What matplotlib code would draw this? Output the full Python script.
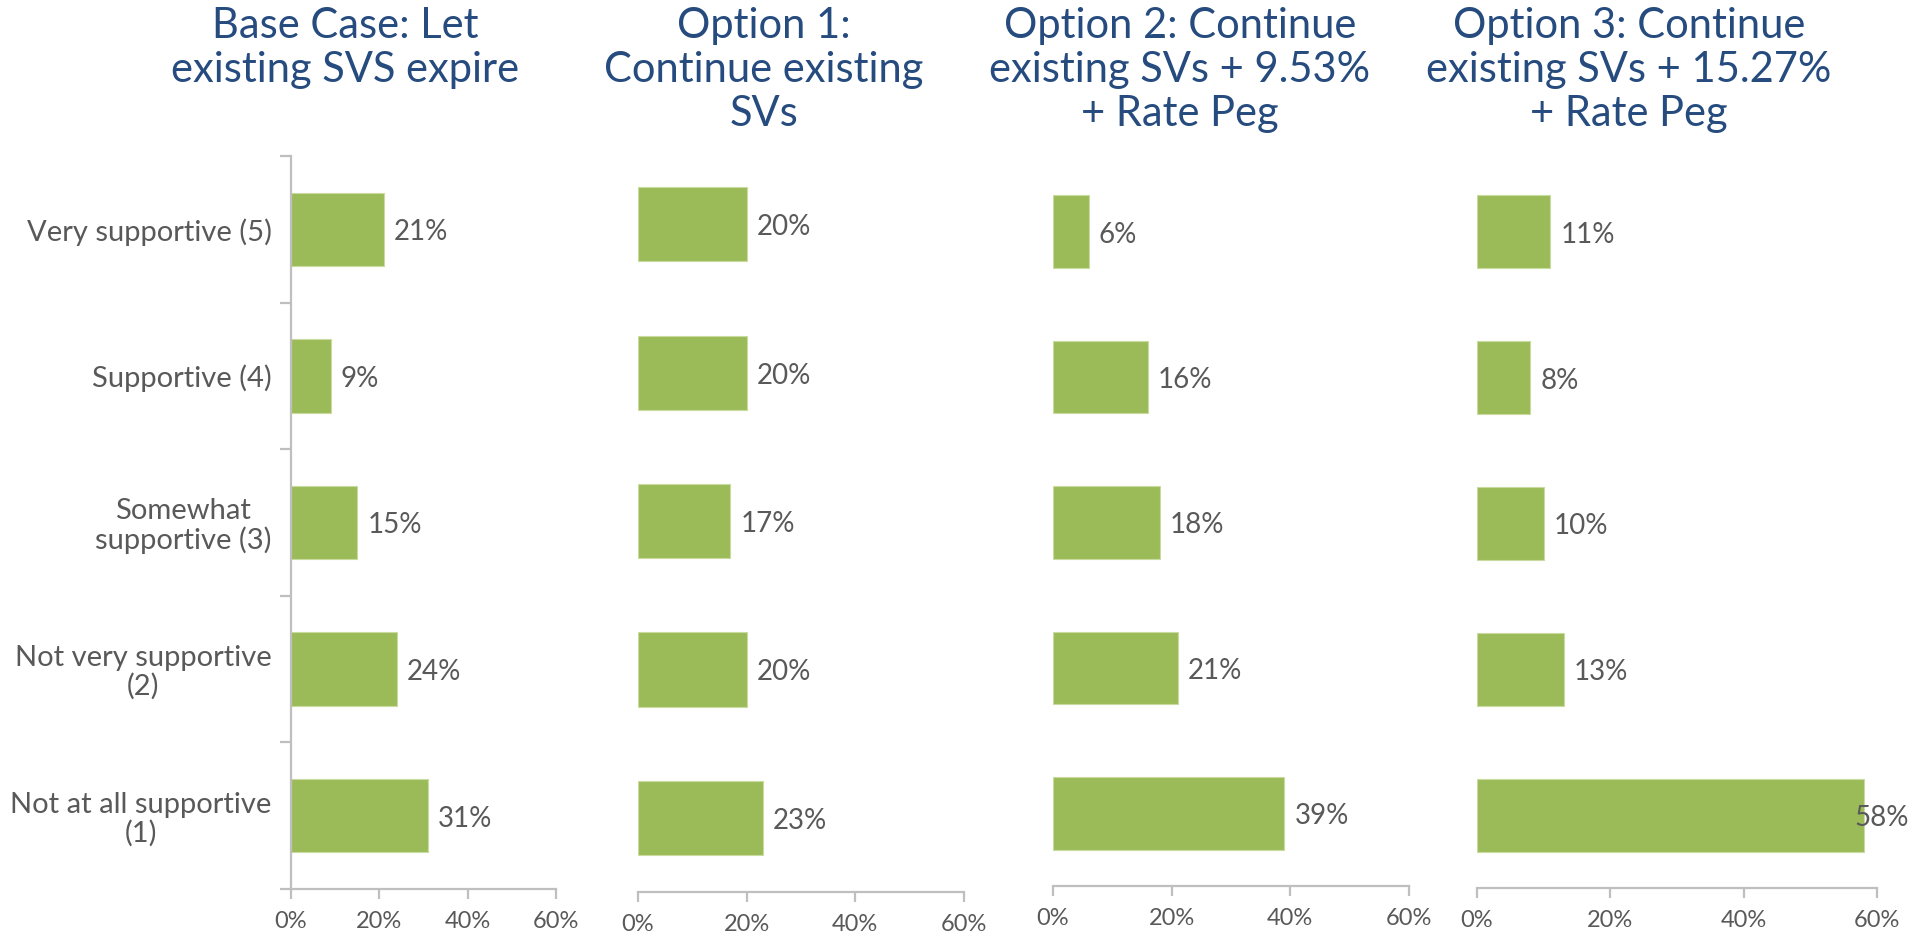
import matplotlib
matplotlib.use("Agg")
import matplotlib.pyplot as plt
from matplotlib.ticker import FixedLocator, FuncFormatter

# Survey responses (% of respondents) for each rate option
categories = [
    "Very supportive (5)",
    "Supportive (4)",
    "Somewhat\nsupportive (3)",
    "Not very supportive\n(2)",
    "Not at all supportive\n(1)",
]
titles = [
    "Base Case: Let\nexisting SVS expire",
    "Option 1:\nContinue existing\nSVs",
    "Option 2: Continue\nexisting SVs + 9.53%\n+ Rate Peg",
    "Option 3: Continue\nexisting SVs + 15.27%\n+ Rate Peg",
]
base_case = [21, 9, 15, 24, 31]
option_1 = [20, 20, 17, 20, 23]
option_2 = [6, 16, 18, 21, 39]
option_3 = [11, 8, 10, 13, 58]
series = [base_case, option_1, option_2, option_3]
x_ticks = [0, 20, 40, 60]

W, H = 1911, 932
GREEN = "#9BBB59"
TITLE_BLUE = "#264B7E"
TEXT_GREY = "#595959"
AXIS_GREY = "#BFBFBF"
FONT = ["Lato", "DejaVu Sans"]

# panel boxes in pixels: left, right, top, bottom
boxes = [
    (291, 556, 156, 889),
    (638, 964, 150, 892),
    (1053, 1409, 159, 886),
    (1477, 1877, 159, 888),
]
title_centers = [345, 764, 1180, 1629]

fig = plt.figure(figsize=(W / 100, H / 100), dpi=100)
fig.patch.set_facecolor("white")

value_texts = []
for i, (vals, (l, r, t, b)) in enumerate(zip(series, boxes)):
    ax = fig.add_axes([l / W, 1 - b / H, (r - l) / W, (b - t) / H])
    ypos = list(range(len(categories)))
    ax.barh(ypos, vals, height=0.5, color=GREEN, edgecolor="#C9DBA0",
            linewidth=0.8, zorder=2)
    ax.set_xlim(0, 60)
    ax.set_ylim(len(categories) - 0.5, -0.5)

    per_px = 60 / (r - l)
    for y, v in zip(ypos, vals):
        txt = ax.text(v + 10 * per_px, y + 0.02, f"{v}%", va="center", ha="left",
                      fontsize=20, color=TEXT_GREY, family=FONT, clip_on=False)
        value_texts.append((txt, per_px))

    for side in ("top", "right"):
        ax.spines[side].set_visible(False)
    ax.spines["bottom"].set_color(AXIS_GREY)
    ax.spines["bottom"].set_linewidth(1.6)

    ax.xaxis.set_major_locator(FixedLocator(x_ticks))
    ax.xaxis.set_major_formatter(FuncFormatter(lambda v, p: f"{v:.0f}%"))
    ax.tick_params(axis="x", direction="out", length=7, width=1.6, color=AXIS_GREY,
                   pad=9, labelsize=17, labelcolor=TEXT_GREY)
    for lab in ax.get_xticklabels():
        lab.set_family(FONT)

    if i == 0:
        ax.spines["left"].set_color(AXIS_GREY)
        ax.spines["left"].set_linewidth(1.6)
        ax.set_yticks(ypos)
        ax.set_yticklabels(categories)
        ax.set_yticks([y - 0.5 for y in range(len(categories) + 1)], minor=True)
        ax.tick_params(axis="y", which="major", length=0, pad=14,
                       labelsize=21, labelcolor=TEXT_GREY)
        ax.tick_params(axis="y", which="minor", direction="out", length=8,
                       width=1.6, color=AXIS_GREY)
        for lab in ax.get_yticklabels():
            lab.set_family(FONT)
            lab.set_multialignment("center")
            lab.set_linespacing(1.1)
    else:
        ax.spines["left"].set_visible(False)
        ax.set_yticks([])

    fig.text(title_centers[i] / W, 1 - 7 / H, titles[i], ha="center", va="top",
             multialignment="center", fontsize=30, color=TITLE_BLUE,
             family=FONT, linespacing=1.19)

# keep value labels inside the canvas: slide any overflowing label left
fig.canvas.draw()
renderer = fig.canvas.get_renderer()
for txt, per_px in value_texts:
    bb = txt.get_window_extent(renderer)
    overflow = bb.x1 - (W - 2)
    if overflow > 0:
        x, y = txt.get_position()
        txt.set_x(x - overflow * per_px)

fig.savefig("out.png", dpi=100, facecolor="white")
